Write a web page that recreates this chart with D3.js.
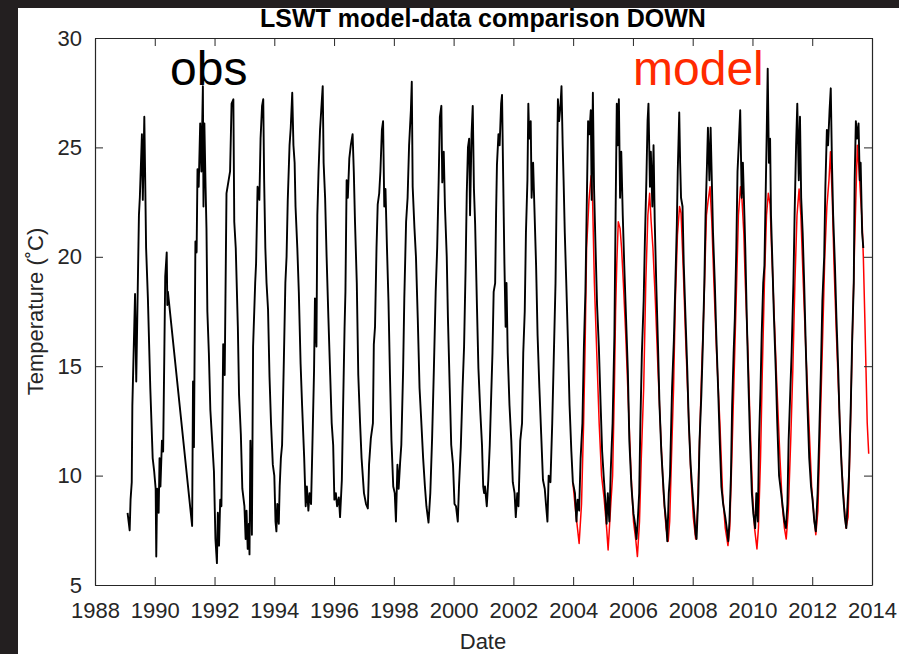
<!DOCTYPE html>
<html>
<head>
<meta charset="utf-8">
<script src="https://cdn.jsdelivr.net/npm/d3@7"></script>
<style>
  body { margin: 0; background: #231f20; }
  text { font-family: "Liberation Sans", Arial, Helvetica, sans-serif; }
</style>
</head>
<body>
<svg width="899" height="654"></svg>
<script>
// observed lake surface water temperature, [decimal year, degC]
const obs = [
  [1989.09,8.3],[1989.16,7.5],[1989.19,8.9],[1989.23,9.7],[1989.25,13.2],[1989.34,18.3],[1989.38,14.3],[1989.41,16.8],
  [1989.47,21.9],[1989.50,22.7],[1989.57,25.6],[1989.60,22.6],[1989.65,26.4],[1989.68,23.5],[1989.71,20.4],[1989.77,18.1],
  [1989.85,14.0],[1989.93,10.8],[1989.98,10.2],[1990.03,9.4],[1990.05,6.3],[1990.08,9.4],[1990.13,8.3],[1990.16,10.8],
  [1990.19,9.5],[1990.24,11.6],[1990.28,11.1],[1990.32,15.6],[1990.35,19.1],[1990.40,20.2],[1990.42,17.8],[1990.44,18.4],
  [1991.25,7.7],[1991.28,14.3],[1991.31,11.3],[1991.36,20.7],[1991.40,20.2],[1991.43,24.0],[1991.47,23.2],[1991.52,26.1],
  [1991.56,23.9],[1991.61,27.8],[1991.63,22.3],[1991.66,26.1],[1991.70,23.2],[1991.73,21.3],[1991.76,17.5],[1991.81,15.6],
  [1991.86,13.0],[1991.92,11.6],[1991.98,10.2],[1992.03,7.1],[1992.08,6.0],[1992.11,8.3],[1992.15,6.8],[1992.19,8.9],
  [1992.23,8.6],[1992.29,16.0],[1992.34,14.6],[1992.40,22.9],[1992.52,23.9],[1992.57,27.0],[1992.63,27.2],[1992.66,21.6],
  [1992.71,20.4],[1992.78,16.8],[1992.82,13.7],[1992.88,11.9],[1992.93,9.4],[1993.00,8.6],[1993.04,7.1],[1993.07,8.4],
  [1993.11,6.65],[1993.15,7.8],[1993.17,6.4],[1993.20,11.6],[1993.25,7.3],[1993.29,15.9],[1993.36,18.8],[1993.39,19.7],
  [1993.44,23.2],[1993.50,22.6],[1993.54,25.4],[1993.59,26.9],[1993.63,27.2],[1993.66,23.5],[1993.70,20.4],[1993.74,18.8],
  [1993.79,17.6],[1993.84,14.5],[1993.89,12.4],[1993.95,10.5],[1994.00,10.0],[1994.04,7.9],[1994.07,7.45],[1994.10,8.7],
  [1994.15,7.8],[1994.18,9.5],[1994.22,10.8],[1994.26,11.4],[1994.32,15.3],[1994.37,18.8],[1994.41,20.0],[1994.45,22.6],
  [1994.51,25.1],[1994.55,25.9],[1994.60,27.5],[1994.64,25.1],[1994.68,24.3],[1994.71,22.3],[1994.77,20.4],[1994.82,18.4],
  [1994.88,15.1],[1994.93,13.2],[1995.00,10.8],[1995.05,8.6],[1995.09,9.5],[1995.14,8.4],[1995.18,9.2],[1995.23,8.7],
  [1995.27,11.1],[1995.33,14.8],[1995.36,18.1],[1995.41,15.9],[1995.44,21.9],[1995.48,23.9],[1995.53,25.8],[1995.57,26.7],
  [1995.62,27.8],[1995.65,24.3],[1995.70,22.7],[1995.75,20.0],[1995.81,17.2],[1995.87,14.6],[1995.92,12.4],[1995.97,11.4],
  [1996.01,8.9],[1996.06,9.2],[1996.10,8.6],[1996.16,9.0],[1996.20,8.1],[1996.26,9.8],[1996.30,13.0],[1996.35,16.7],
  [1996.38,18.4],[1996.42,23.5],[1996.46,22.7],[1996.51,24.5],[1996.56,25.1],[1996.62,25.6],[1996.66,23.9],[1996.70,21.6],
  [1996.76,18.8],[1996.81,14.6],[1996.87,12.4],[1996.92,10.8],[1997.00,9.2],[1997.07,8.7],[1997.13,8.5],[1997.17,10.5],
  [1997.23,11.7],[1997.30,12.4],[1997.33,16.0],[1997.37,16.8],[1997.42,20.4],[1997.46,22.4],[1997.51,22.9],[1997.55,23.9],
  [1997.60,25.8],[1997.64,26.2],[1997.68,22.3],[1997.72,23.1],[1997.77,20.4],[1997.82,18.0],[1997.87,14.6],[1997.92,11.6],
  [1997.98,9.5],[1998.03,9.2],[1998.07,7.9],[1998.12,10.5],[1998.16,9.4],[1998.21,10.6],[1998.25,11.4],[1998.31,14.8],
  [1998.35,18.1],[1998.41,21.6],[1998.46,22.7],[1998.51,25.1],[1998.57,26.7],[1998.60,28.0],[1998.63,23.2],[1998.69,21.3],
  [1998.74,20.0],[1998.80,17.2],[1998.86,14.0],[1998.91,12.7],[1998.98,10.8],[1999.04,9.5],[1999.09,8.6],[1999.16,7.85],
  [1999.22,9.2],[1999.28,11.7],[1999.34,14.9],[1999.40,18.4],[1999.45,20.4],[1999.50,23.5],[1999.54,26.4],[1999.59,26.9],
  [1999.62,23.4],[1999.67,24.8],[1999.71,22.3],[1999.77,20.0],[1999.81,17.2],[1999.87,14.0],[1999.92,11.4],[1999.98,10.5],
  [2000.03,8.7],[2000.08,8.6],[2000.14,7.9],[2000.18,9.5],[2000.24,11.3],[2000.30,14.0],[2000.35,15.9],[2000.40,19.4],
  [2000.44,22.9],[2000.48,25.0],[2000.52,25.4],[2000.55,21.9],[2000.60,25.6],[2000.64,26.9],[2000.68,23.1],[2000.72,21.5],
  [2000.78,17.8],[2000.83,14.9],[2000.89,13.0],[2000.95,11.4],[2000.99,9.5],[2001.02,9.2],[2001.05,9.5],[2001.11,8.6],
  [2001.16,9.8],[2001.21,11.4],[2001.25,13.3],[2001.30,15.6],[2001.34,18.4],[2001.39,18.8],[2001.42,21.9],[2001.45,24.2],
  [2001.50,25.6],[2001.54,25.1],[2001.59,27.0],[2001.62,27.4],[2001.66,23.5],[2001.70,19.7],[2001.74,16.8],[2001.77,18.8],
  [2001.81,15.6],[2001.87,13.2],[2001.93,11.6],[2001.98,9.7],[2002.04,9.2],[2002.08,8.1],[2002.13,9.2],[2002.17,8.6],
  [2002.23,11.6],[2002.29,12.4],[2002.33,15.6],[2002.38,17.5],[2002.42,21.1],[2002.47,23.5],[2002.50,27.0],[2002.53,25.4],
  [2002.58,26.2],[2002.61,22.7],[2002.66,24.3],[2002.70,22.4],[2002.76,19.6],[2002.81,16.4],[2002.87,14.0],[2002.93,11.9],
  [2002.99,9.8],[2003.05,9.4],[2003.09,8.7],[2003.14,7.9],[2003.18,10.0],[2003.24,9.7],[2003.30,12.4],[2003.35,15.3],
  [2003.41,18.8],[2003.45,23.1],[2003.49,27.2],[2003.53,26.2],[2003.58,27.0],[2003.61,27.8],[2003.65,25.1],[2003.68,23.5],
  [2003.72,21.1],[2003.77,18.8],[2003.83,15.9],[2003.88,13.2],[2003.94,11.1],[2003.99,9.7],[2004.06,9.2],[2004.11,7.9],
  [2004.15,8.9],[2004.20,8.4],[2004.25,10.8],[2004.31,12.4],[2004.36,15.9],[2004.41,18.4],[2004.45,21.9],[2004.50,26.2],
  [2004.54,25.6],[2004.59,26.7],[2004.62,22.6],[2004.66,27.5],[2004.70,23.1],[2004.75,20.4],[2004.80,17.8],[2004.86,15.9],
  [2004.92,13.2],[2004.97,11.1],[2005.03,9.8],[2005.07,9.0],[2005.12,7.8],[2005.16,9.2],[2005.21,7.9],[2005.26,10.3],
  [2005.32,12.4],[2005.38,16.4],[2005.42,21.9],[2005.46,27.0],[2005.49,25.1],[2005.53,27.2],[2005.57,22.7],[2005.61,24.8],
  [2005.66,21.9],[2005.71,19.6],[2005.77,17.2],[2005.83,14.8],[2005.88,11.6],[2005.95,9.5],[2006.02,8.25],[2006.07,7.8],
  [2006.12,7.1],[2006.16,7.9],[2006.21,9.2],[2006.25,12.4],[2006.30,15.6],[2006.36,18.0],[2006.40,20.7],[2006.45,23.5],
  [2006.49,26.2],[2006.52,27.0],[2006.57,23.2],[2006.60,24.8],[2006.65,22.3],[2006.69,25.1],[2006.73,21.6],[2006.78,18.8],
  [2006.84,15.9],[2006.89,13.2],[2006.95,11.1],[2007.01,9.7],[2007.06,8.6],[2007.11,7.9],[2007.15,7.0],[2007.20,9.2],
  [2007.24,10.0],[2007.31,14.0],[2007.37,16.2],[2007.42,18.8],[2007.47,21.5],[2007.50,23.9],[2007.55,26.6],[2007.58,24.3],
  [2007.61,22.7],[2007.66,22.3],[2007.70,19.7],[2007.76,17.2],[2007.82,14.8],[2007.87,12.4],[2007.93,10.5],[2007.98,9.5],
  [2008.04,8.4],[2008.10,7.3],[2008.13,7.1],[2008.19,9.2],[2008.23,11.6],[2008.29,13.7],[2008.34,16.0],[2008.39,18.8],
  [2008.43,21.9],[2008.48,24.3],[2008.51,25.9],[2008.56,23.5],[2008.60,25.9],[2008.64,23.5],[2008.68,21.1],[2008.74,18.8],
  [2008.79,16.4],[2008.85,14.0],[2008.91,11.4],[2008.96,9.5],[2009.02,8.7],[2009.09,8.1],[2009.14,7.6],[2009.19,7.0],
  [2009.23,7.9],[2009.28,10.0],[2009.32,13.2],[2009.37,15.6],[2009.41,17.2],[2009.46,20.4],[2009.50,23.9],[2009.54,25.1],
  [2009.59,26.7],[2009.64,22.7],[2009.68,24.3],[2009.73,21.9],[2009.76,20.4],[2009.81,17.2],[2009.87,14.0],[2009.92,11.6],
  [2009.98,9.2],[2010.03,8.25],[2010.09,7.6],[2010.13,9.2],[2010.18,7.9],[2010.22,11.6],[2010.27,14.0],[2010.31,16.5],
  [2010.36,18.8],[2010.40,19.6],[2010.45,23.5],[2010.48,25.9],[2010.51,28.6],[2010.55,24.3],[2010.59,25.4],[2010.62,21.9],
  [2010.67,19.6],[2010.72,17.2],[2010.78,14.8],[2010.83,12.4],[2010.89,10.0],[2010.96,9.2],[2011.01,8.6],[2011.07,7.9],
  [2011.12,7.6],[2011.17,8.7],[2011.21,11.6],[2011.27,14.0],[2011.31,15.6],[2011.37,18.8],[2011.41,21.9],[2011.46,25.1],
  [2011.50,27.0],[2011.55,23.5],[2011.59,26.4],[2011.63,22.7],[2011.68,21.1],[2011.73,18.8],[2011.79,15.6],[2011.84,13.2],
  [2011.90,10.8],[2011.96,9.5],[2012.01,8.9],[2012.07,7.9],[2012.12,7.45],[2012.18,9.2],[2012.23,11.6],[2012.29,14.8],
  [2012.34,18.0],[2012.40,20.0],[2012.44,23.2],[2012.49,25.8],[2012.53,25.1],[2012.58,26.7],[2012.62,27.7],[2012.66,24.3],
  [2012.70,21.9],[2012.76,19.6],[2012.81,17.2],[2012.87,14.8],[2012.92,12.4],[2012.98,10.5],[2013.03,9.2],[2013.09,8.1],
  [2013.14,7.6],[2013.19,8.9],[2013.23,10.0],[2013.29,13.2],[2013.34,16.4],[2013.39,18.8],[2013.42,23.5],[2013.46,26.2],
  [2013.50,25.4],[2013.55,26.1],[2013.59,23.5],[2013.62,24.3],[2013.67,21.1],[2013.71,20.4]
];

// model run, [decimal year, degC]
const model = [
  [2003.99,9.7],[2004.08,8.4],[2004.20,6.9],[2004.28,8.7],[2004.35,12.4],[2004.40,15.9],[2004.45,20.4],[2004.53,22.6],
  [2004.60,23.7],[2004.65,22.6],[2004.71,18.8],[2004.79,15.6],[2004.87,12.4],[2004.95,10.0],[2005.04,8.9],[2005.12,7.6],
  [2005.17,6.6],[2005.26,8.7],[2005.32,10.0],[2005.38,14.0],[2005.42,17.5],[2005.46,19.7],[2005.51,21.6],[2005.57,21.3],
  [2005.62,20.4],[2005.68,18.8],[2005.76,16.4],[2005.85,13.2],[2005.94,10.0],[2006.02,7.9],[2006.10,7.0],[2006.15,6.3],
  [2006.22,7.9],[2006.28,10.8],[2006.36,14.0],[2006.43,18.8],[2006.50,21.9],[2006.56,22.9],[2006.61,21.6],[2006.67,20.4],
  [2006.75,18.0],[2006.84,14.8],[2006.94,11.6],[2007.03,9.0],[2007.11,7.6],[2007.18,7.0],[2007.23,7.9],[2007.29,10.8],
  [2007.36,14.0],[2007.42,18.0],[2007.49,21.0],[2007.56,22.3],[2007.61,22.0],[2007.68,19.6],[2007.76,16.4],[2007.85,13.2],
  [2007.94,10.0],[2008.02,8.1],[2008.10,7.1],[2008.16,8.4],[2008.23,11.6],[2008.30,14.8],[2008.38,18.0],[2008.46,21.9],
  [2008.52,22.6],[2008.58,23.2],[2008.64,21.6],[2008.71,18.8],[2008.80,15.6],[2008.91,12.4],[2009.00,9.2],[2009.09,7.6],
  [2009.18,6.8],[2009.24,7.6],[2009.31,10.8],[2009.39,14.8],[2009.47,18.8],[2009.53,21.9],[2009.60,23.2],[2009.65,22.6],
  [2009.71,21.1],[2009.76,18.8],[2009.85,15.6],[2009.92,12.4],[2010.00,9.2],[2010.07,7.6],[2010.15,6.65],[2010.20,7.6],
  [2010.27,10.8],[2010.33,14.8],[2010.40,18.8],[2010.47,21.9],[2010.53,22.9],[2010.59,22.4],[2010.64,20.4],[2010.73,17.2],
  [2010.82,14.0],[2010.92,10.8],[2011.00,8.6],[2011.07,7.6],[2011.13,7.1],[2011.20,8.4],[2011.28,11.6],[2011.35,14.8],
  [2011.42,18.8],[2011.49,21.9],[2011.56,23.1],[2011.62,21.9],[2011.70,18.8],[2011.79,15.6],[2011.89,12.4],[2011.98,9.5],
  [2012.06,8.1],[2012.12,7.3],[2012.19,8.4],[2012.27,12.4],[2012.35,16.4],[2012.42,20.0],[2012.49,22.3],[2012.56,23.5],
  [2012.61,24.8],[2012.67,22.7],[2012.73,19.6],[2012.81,16.4],[2012.90,13.2],[2012.99,10.3],[2013.07,8.6],[2013.13,7.6],
  [2013.20,8.1],[2013.27,11.6],[2013.33,15.6],[2013.40,19.6],[2013.46,22.7],[2013.51,25.1],[2013.57,23.9],[2013.62,22.7],
  [2013.67,21.6],[2013.71,20.0],[2013.76,17.2],[2013.80,14.8],[2013.84,12.4],[2013.89,11.0]
];

const xTicks = [1988, 1990, 1992, 1994, 1996, 1998, 2000, 2002, 2004, 2006, 2008, 2010, 2012, 2014];
const yTicks = [5, 10, 15, 20, 25, 30];

const svg = d3.select("svg");
const margin = { top: 38, right: 27, bottom: 69, left: 95 };
const W = +svg.attr("width"), H = +svg.attr("height");
const axisColor = "#262626";

// dark frame with the white figure area
svg.append("rect").attr("width", W).attr("height", H).attr("fill", "#231f20");
svg.append("rect").attr("x", 18).attr("y", 8).attr("width", W - 18).attr("height", H - 8).attr("fill", "#fff");

const x = d3.scaleLinear().domain([1988, 2014]).range([margin.left, W - margin.right]);
const y = d3.scaleLinear().domain([5, 30]).range([H - margin.bottom, margin.top]);

const line = d3.line().x(d => x(d[0])).y(d => y(d[1]));

// model underneath, observations on top
svg.append("path")
  .datum(model)
  .attr("fill", "none")
  .attr("stroke", "#ff0000")
  .attr("stroke-width", 1.5)
  .attr("stroke-linejoin", "round")
  .attr("d", line);

svg.append("path")
  .datum(obs)
  .attr("fill", "none")
  .attr("stroke", "#000")
  .attr("stroke-width", 1.9)
  .attr("stroke-linejoin", "round")
  .attr("d", line);

// axes, matlab style: ticks inward on all four sides
function styleAxis(g) {
  g.selectAll(".domain").attr("stroke", axisColor).attr("stroke-width", 1.2);
  g.selectAll(".tick line").attr("stroke", axisColor).attr("stroke-width", 1);
  g.selectAll(".tick text").attr("fill", axisColor)
    .attr("font-size", "22px").attr("font-family", "Liberation Sans, Arial, sans-serif");
}

svg.append("g")
  .attr("transform", `translate(0,${y(5)})`)
  .call(d3.axisBottom(x).tickValues(xTicks).tickFormat(d3.format("d")).tickSize(-8).tickSizeOuter(0).tickPadding(17))
  .call(styleAxis);

svg.append("g")
  .attr("transform", `translate(0,${y(30)})`)
  .call(d3.axisTop(x).tickValues(xTicks).tickFormat("").tickSize(-8).tickSizeOuter(0))
  .call(styleAxis);

svg.append("g")
  .attr("transform", `translate(${x(1988)},0)`)
  .call(d3.axisLeft(y).tickValues(yTicks).tickSize(-8).tickSizeOuter(0).tickPadding(13))
  .call(styleAxis);

svg.append("g")
  .attr("transform", `translate(${x(2014)},0)`)
  .call(d3.axisRight(y).tickValues(yTicks).tickFormat("").tickSize(-8).tickSizeOuter(0))
  .call(styleAxis);

// title and labels
svg.append("text")
  .attr("x", 483).attr("y", 27)
  .attr("text-anchor", "middle")
  .attr("font-size", "25px").attr("font-weight", "bold")
  .attr("fill", "#000")
  .text("LSWT model-data comparison DOWN");

svg.append("text")
  .attr("x", 483).attr("y", 649)
  .attr("text-anchor", "middle")
  .attr("font-size", "22px").attr("fill", axisColor)
  .text("Date");

svg.append("text")
  .attr("transform", "rotate(-90)")
  .attr("x", -(y(5) + y(30)) / 2).attr("y", 43)
  .attr("text-anchor", "middle")
  .attr("font-size", "22px").attr("fill", axisColor)
  .text("Temperature (˚C)");

svg.append("text")
  .attr("x", 170).attr("y", 85)
  .attr("font-size", "48px").attr("fill", "#000")
  .text("obs");

svg.append("text")
  .attr("x", 633).attr("y", 85)
  .attr("font-size", "48px").attr("fill", "#ff2a00")
  .text("model");
</script>
</body>
</html>
